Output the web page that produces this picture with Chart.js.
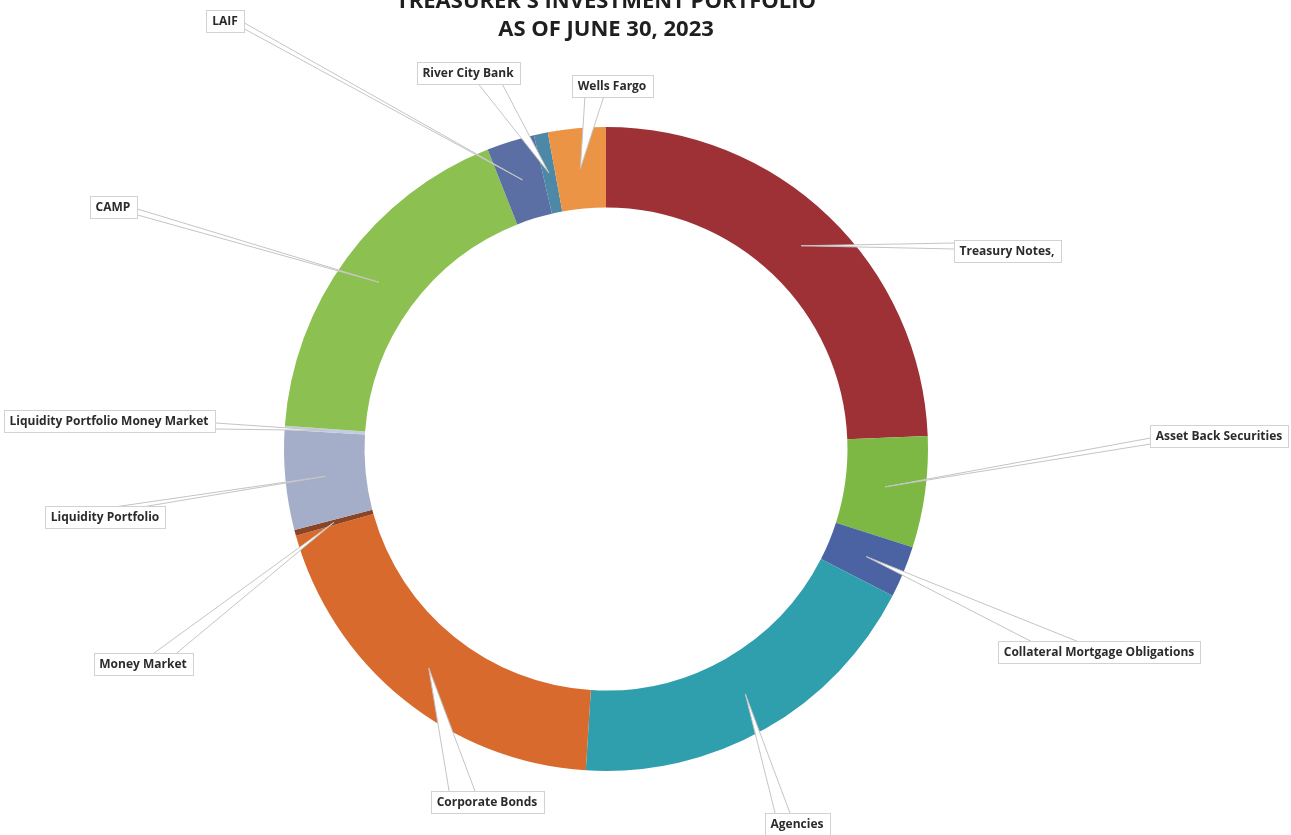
<!DOCTYPE html>
<html>
<head>
<meta charset="utf-8">
<title>Treasurer's Investment Portfolio</title>
<script src="https://cdn.jsdelivr.net/npm/chart.js@4/dist/chart.umd.min.js"></script>
<style>
  html, body { margin: 0; padding: 0; background: #fff; }
  .c-chart { width: 1291px; height: 835px; }
</style>
</head>
<body>
<div class="c-chart"><canvas class="js-portfolio-chart" width="1291" height="835"></canvas></div>
<script>
//#region ***  Data                                     ***********
const titleLines = ["TREASURER'S INVESTMENT PORTFOLIO", "AS OF JUNE 30, 2023"];

// clockwise from 12 o'clock
const categories = [
  "Treasury Notes,",
  "Asset Back Securities",
  "Collateral Mortgage Obligations",
  "Agencies",
  "Corporate Bonds",
  "Money Market",
  "Liquidity Portfolio",
  "Liquidity Portfolio Money Market",
  "CAMP",
  "LAIF",
  "River City Bank",
  "Wells Fargo",
];
// share of portfolio, %
const shares = [24.4, 5.6, 2.6, 18.5, 19.7, 0.3, 5.0, 0.2, 17.9, 2.4, 0.7, 2.9];

const sliceColors = [
  "#9e3136", "#7cb843", "#4c63a3", "#2f9fae", "#d96a2e", "#8a4526",
  "#a4aec8", "#c3cde0", "#8cc152", "#5b6fa5", "#4d88a6", "#ec9446",
];

// label box centres and the side the callout leaves from
const labelPositions = [
  [1007, 251], [1219, 436], [1099, 652], [797, 824], [487, 802], [143, 664],
  [105, 517], [109, 421], [113, 207], [225, 21], [468, 73], [612, 86],
];
const labelSides = [
  "left", "left", "top", "top", "top", "top",
  "top", "right", "right", "right", "bottom", "bottom",
];
//#endregion

//#region ***  Plugins                                  ***********
const labelFont = "bold 12px 'Open Sans', 'Liberation Sans', sans-serif";
const boxHeight = 22;

const titlePlugin = {
  id: "pageTitle",
  afterDraw: function (chart) {
    const ctx = chart.ctx;
    ctx.save();
    ctx.fillStyle = "#1f1f1f";
    ctx.font = "bold 22px 'Open Sans', 'Liberation Sans', sans-serif";
    ctx.textAlign = "center";
    ctx.textBaseline = "alphabetic";
    ctx.fillText(titleLines[0], 606, 8);
    ctx.fillText(titleLines[1], 606, 36);
    ctx.restore();
  },
};

const calloutPlugin = {
  id: "callouts",
  afterDatasetsDraw: function (chart) {
    const ctx = chart.ctx;
    const arcs = chart.getDatasetMeta(0).data;
    ctx.save();
    ctx.font = labelFont;
    arcs.forEach(function (arc, i) {
      const anchor = arc.tooltipPosition(true);
      const [cx, cy] = labelPositions[i];
      const w = Math.round(ctx.measureText(categories[i]).width + 12);
      const h = boxHeight;
      const left = Math.round(cx - w / 2) + 0.5;
      const top = Math.round(cy - h / 2) + 0.5;
      const side = labelSides[i];

      // callout wedge from box edge to the slice
      let b1, b2;
      if (side === "top" || side === "bottom") {
        const dir = Math.sign(anchor.x - cx);
        const mid = cx + dir * 0.22 * w;
        const half = Math.max(7, 0.115 * w);
        const y = side === "top" ? top : top + h;
        b1 = [mid - half, y];
        b2 = [mid + half, y];
      } else {
        const dir = Math.sign(anchor.y - cy);
        const mid = cy + dir * 5;
        const x = side === "left" ? left : left + w;
        b1 = [x, mid - 3];
        b2 = [x, mid + 3];
      }
      ctx.beginPath();
      ctx.moveTo(b1[0], b1[1]);
      ctx.lineTo(anchor.x, anchor.y);
      ctx.lineTo(b2[0], b2[1]);
      ctx.closePath();
      ctx.fillStyle = "#ffffff";
      ctx.fill();
      ctx.strokeStyle = "#c4c4c4";
      ctx.lineWidth = 1;
      ctx.stroke();

      // label box
      ctx.fillStyle = "#ffffff";
      ctx.fillRect(left, top, w, h);
      ctx.strokeStyle = "#d2d2d2";
      ctx.strokeRect(left, top, w, h);
      ctx.fillStyle = "#2b2b2b";
      ctx.textAlign = "center";
      ctx.textBaseline = "middle";
      ctx.fillText(categories[i], cx, cy + 1);
    });
    ctx.restore();
  },
};
//#endregion

//#region ***  Init / DOMContentLoaded                  ***********
const init = function () {
  const htmlCanvas = document.querySelector(".js-portfolio-chart");

  new Chart(htmlCanvas, {
    type: "doughnut",
    data: {
      labels: categories,
      datasets: [
        {
          data: shares,
          backgroundColor: sliceColors,
          borderWidth: 0,
          hoverOffset: 0,
          offset: 0,
        },
      ],
    },
    options: {
      responsive: false,
      animation: false,
      events: [],
      cutout: "75%",
      rotation: 0,
      layout: { padding: { top: 127, bottom: 64, left: 0, right: 79 } },
      plugins: {
        legend: { display: false },
        tooltip: { enabled: false },
        title: { display: false },
      },
    },
    plugins: [calloutPlugin, titlePlugin],
  });
};

document.addEventListener("DOMContentLoaded", init);
//#endregion
</script>
</body>
</html>
